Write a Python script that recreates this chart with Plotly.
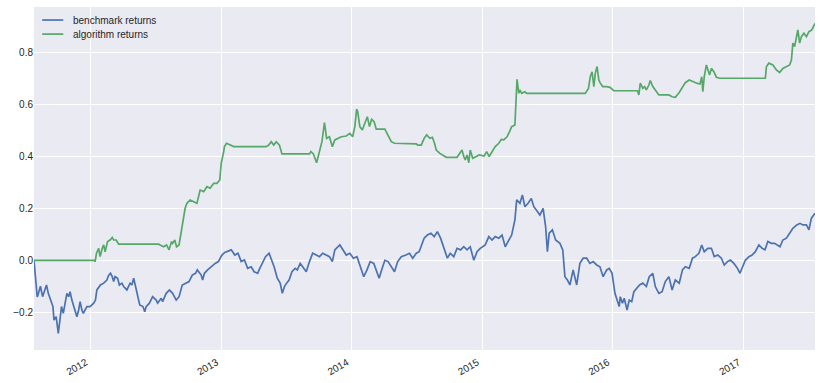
import plotly.graph_objects as go

# benchmark returns (blue)
bench_dates = [
    "2011-07-26", "2011-08-04", "2011-08-06", "2011-08-13", "2011-08-19", "2011-08-26", "2011-08-30",
    "2011-09-04", "2011-09-11", "2011-09-17", "2011-09-20", "2011-09-26", "2011-10-02", "2011-10-07",
    "2011-10-11", "2011-10-16", "2011-10-21", "2011-10-26", "2011-10-31", "2011-11-04", "2011-11-09",
    "2011-11-14", "2011-11-23", "2011-11-28", "2011-12-02", "2011-12-07", "2011-12-11", "2011-12-21",
    "2011-12-30", "2012-01-09", "2012-01-14", "2012-01-18", "2012-01-28", "2012-02-06", "2012-02-15",
    "2012-02-20", "2012-02-25", "2012-03-01", "2012-03-05", "2012-03-09", "2012-03-16", "2012-03-21",
    "2012-03-28", "2012-04-02", "2012-04-11", "2012-04-20", "2012-04-25", "2012-04-30", "2012-05-03",
    "2012-05-08", "2012-05-17", "2012-05-26", "2012-05-31", "2012-06-04", "2012-06-13", "2012-06-22",
    "2012-07-02", "2012-07-06", "2012-07-16", "2012-07-20", "2012-07-30", "2012-08-08", "2012-08-17",
    "2012-08-27", "2012-09-04", "2012-09-13", "2012-09-23", "2012-10-02", "2012-10-11", "2012-10-20",
    "2012-10-25", "2012-11-01", "2012-11-05", "2012-11-09", "2012-11-14", "2012-11-23", "2012-12-03",
    "2012-12-14", "2012-12-23", "2013-01-02", "2013-01-10", "2013-01-28", "2013-02-07", "2013-02-16",
    "2013-02-25", "2013-03-06", "2013-03-15", "2013-03-25", "2013-04-02", "2013-04-12", "2013-04-16",
    "2013-04-26", "2013-05-04", "2013-05-14", "2013-05-19", "2013-05-28", "2013-06-06", "2013-06-14",
    "2013-06-20", "2013-06-26", "2013-07-02", "2013-07-09", "2013-07-17", "2013-07-26", "2013-08-01",
    "2013-08-09", "2013-08-16", "2013-08-26", "2013-09-04", "2013-09-13", "2013-09-23", "2013-10-02",
    "2013-10-11", "2013-10-21", "2013-10-30", "2013-11-07", "2013-11-14", "2013-11-28", "2013-12-07",
    "2013-12-16", "2013-12-26", "2014-01-05", "2014-01-15", "2014-01-22", "2014-01-28", "2014-02-03",
    "2014-02-12", "2014-02-21", "2014-03-03", "2014-03-11", "2014-03-18", "2014-03-25", "2014-04-03",
    "2014-04-12", "2014-04-22", "2014-04-30", "2014-05-09", "2014-05-19", "2014-06-01", "2014-06-11",
    "2014-06-20", "2014-06-30", "2014-07-08", "2014-07-17", "2014-07-22", "2014-07-31", "2014-08-10",
    "2014-08-19", "2014-08-28", "2014-09-06", "2014-09-11", "2014-09-18", "2014-09-25", "2014-10-03",
    "2014-10-13", "2014-10-22", "2014-11-01", "2014-11-10", "2014-11-19", "2014-11-28", "2014-12-08",
    "2014-12-17", "2014-12-26", "2015-01-09", "2015-01-19", "2015-01-28", "2015-02-06", "2015-02-16",
    "2015-02-25", "2015-03-06", "2015-03-15", "2015-03-24", "2015-04-02", "2015-04-07", "2015-04-16",
    "2015-04-23", "2015-04-30", "2015-05-09", "2015-05-18", "2015-05-25", "2015-06-01", "2015-06-11",
    "2015-06-20", "2015-06-27", "2015-07-02", "2015-07-07", "2015-07-16", "2015-07-25", "2015-08-06",
    "2015-08-14", "2015-08-20", "2015-08-27", "2015-09-03", "2015-09-12", "2015-09-22", "2015-10-01",
    "2015-10-10", "2015-10-20", "2015-10-29", "2015-11-07", "2015-11-17", "2015-11-26", "2015-12-05",
    "2015-12-15", "2015-12-22", "2015-12-30", "2016-01-07", "2016-01-19", "2016-01-22", "2016-01-28",
    "2016-02-02", "2016-02-10", "2016-02-16", "2016-02-23", "2016-02-29", "2016-03-07", "2016-03-16",
    "2016-03-25", "2016-04-04", "2016-04-12", "2016-04-22", "2016-04-29", "2016-05-09", "2016-05-18",
    "2016-05-27", "2016-06-06", "2016-06-15", "2016-06-24", "2016-07-05", "2016-07-14", "2016-07-22",
    "2016-08-02", "2016-08-11", "2016-08-19", "2016-08-29", "2016-09-06", "2016-09-13", "2016-09-23",
    "2016-10-03", "2016-10-11", "2016-10-21", "2016-10-31", "2016-11-08", "2016-11-17", "2016-11-25",
    "2016-12-05", "2016-12-15", "2016-12-22", "2016-12-29", "2017-01-06", "2017-01-16", "2017-01-25",
    "2017-02-03", "2017-02-13", "2017-02-22", "2017-03-02", "2017-03-10", "2017-03-20", "2017-03-29",
    "2017-04-07", "2017-04-13", "2017-04-21", "2017-05-01", "2017-05-10", "2017-05-19", "2017-05-30",
    "2017-06-08", "2017-06-16", "2017-06-26", "2017-07-03", "2017-07-10", "2017-07-20",
]
bench_values = [
    0.0, -0.141, -0.134, -0.100, -0.140, -0.114, -0.095,
    -0.127, -0.153, -0.178, -0.230, -0.217, -0.281, -0.217,
    -0.178, -0.204, -0.172, -0.127, -0.140, -0.121, -0.153,
    -0.178, -0.217, -0.191, -0.159, -0.191, -0.204, -0.178,
    -0.178, -0.165, -0.153, -0.114, -0.095, -0.088, -0.076,
    -0.057, -0.050, -0.063, -0.082, -0.063, -0.069, -0.095,
    -0.088, -0.101, -0.114, -0.088, -0.095, -0.069, -0.088,
    -0.127, -0.172, -0.178, -0.198, -0.178, -0.165, -0.140,
    -0.153, -0.165, -0.146, -0.159, -0.127, -0.114, -0.127,
    -0.153, -0.140, -0.095, -0.088, -0.082, -0.057, -0.050,
    -0.037, -0.050, -0.057, -0.076, -0.050, -0.037, -0.025,
    -0.012, -0.005, 0.020, 0.030, 0.040, 0.020, 0.027,
    -0.005, 0.001, -0.031, -0.025, -0.044, -0.050, -0.037,
    -0.005, 0.014, 0.027, 0.008, -0.025, -0.069, -0.088,
    -0.127, -0.101, -0.088, -0.076, -0.044, -0.031, -0.037,
    -0.012, -0.025, -0.044, -0.005, 0.027, 0.020, 0.014,
    0.027, 0.020, 0.014, -0.005, 0.040, 0.059, 0.040,
    0.020, 0.027, 0.008, 0.014, -0.012, -0.037, -0.063,
    -0.037, -0.005, -0.012, -0.044, -0.069, -0.037, 0.000,
    -0.005, -0.025, -0.044, -0.005, 0.014, 0.020, 0.027,
    0.008, 0.027, 0.033, 0.065, 0.085, 0.097, 0.104,
    0.091, 0.110, 0.085, 0.065, 0.040, 0.008, 0.027,
    0.014, 0.046, 0.040, 0.052, 0.040, 0.052, 0.000,
    0.033, 0.046, 0.059, 0.091, 0.078, 0.091, 0.085,
    0.097, 0.052, 0.072, 0.097, 0.155, 0.232, 0.219,
    0.251, 0.206, 0.219, 0.238, 0.206, 0.193, 0.174,
    0.200, 0.129, 0.033, 0.104, 0.117, 0.078, 0.065,
    0.040, -0.063, -0.076, -0.095, -0.037, -0.095, -0.012,
    0.008, 0.008, -0.012, -0.005, -0.018, -0.025, -0.063,
    -0.037, -0.031, -0.050, -0.127, -0.178, -0.140, -0.165,
    -0.146, -0.191, -0.153, -0.159, -0.121, -0.108, -0.095,
    -0.088, -0.101, -0.063, -0.050, -0.101, -0.127, -0.121,
    -0.082, -0.063, -0.114, -0.076, -0.088, -0.037, -0.025,
    -0.031, 0.008, 0.014, 0.027, 0.059, 0.033, 0.046,
    0.046, 0.014, 0.020, 0.008, -0.018, -0.005, 0.001,
    -0.012, -0.031, -0.050, -0.025, 0.000, 0.014, 0.020,
    0.033, 0.059, 0.046, 0.040, 0.072, 0.065, 0.065,
    0.059, 0.052, 0.078, 0.085, 0.104, 0.123, 0.136,
    0.142, 0.136, 0.136, 0.117, 0.162, 0.181,
]

# algorithm returns (green)
algo_dates = [
    "2011-07-26", "2012-01-12", "2012-01-13", "2012-01-17", "2012-01-23", "2012-01-27", "2012-02-02",
    "2012-02-06", "2012-02-10", "2012-02-17", "2012-02-24", "2012-03-01", "2012-03-05", "2012-03-12",
    "2012-03-19", "2012-07-09", "2012-07-13", "2012-07-23", "2012-07-31", "2012-08-07", "2012-08-14",
    "2012-08-17", "2012-08-23", "2012-08-28", "2012-09-04", "2012-09-07", "2012-09-12", "2012-09-17",
    "2012-09-21", "2012-09-26", "2012-10-05", "2012-10-15", "2012-10-24", "2012-11-02", "2012-11-12",
    "2012-11-21", "2012-11-30", "2012-12-10", "2012-12-19", "2012-12-27", "2012-12-31", "2013-01-07",
    "2013-01-09", "2013-01-15", "2013-01-24", "2013-02-04", "2013-05-06", "2013-05-13", "2013-05-20",
    "2013-05-27", "2013-06-03", "2013-06-12", "2013-06-19", "2013-09-04", "2013-09-08", "2013-09-15",
    "2013-09-24", "2013-10-02", "2013-10-09", "2013-10-16", "2013-10-22", "2013-10-30", "2013-11-07",
    "2013-11-14", "2013-11-22", "2013-12-02", "2013-12-16", "2013-12-26", "2014-01-03", "2014-01-09",
    "2014-01-14", "2014-01-17", "2014-01-23", "2014-01-30", "2014-02-06", "2014-02-13", "2014-02-19",
    "2014-02-25", "2014-03-04", "2014-03-10", "2014-04-03", "2014-04-11", "2014-04-21", "2014-04-30",
    "2014-06-30", "2014-07-04", "2014-07-14", "2014-07-22", "2014-07-29", "2014-08-07", "2014-08-14",
    "2014-08-20", "2014-08-25", "2014-09-03", "2014-09-12", "2014-09-22", "2014-10-22", "2014-10-31",
    "2014-11-05", "2014-11-10", "2014-11-14", "2014-11-19", "2014-11-24", "2014-11-28", "2014-12-05",
    "2014-12-15", "2014-12-23", "2015-01-06", "2015-01-13", "2015-01-20", "2015-01-29", "2015-02-06",
    "2015-02-16", "2015-02-23", "2015-03-02", "2015-03-11", "2015-03-18", "2015-03-24", "2015-04-02",
    "2015-04-05", "2015-04-08", "2015-04-13", "2015-04-16", "2015-04-21", "2015-04-30", "2015-05-05",
    "2015-10-16", "2015-10-25", "2015-10-30", "2015-11-04", "2015-11-09", "2015-11-13", "2015-11-18",
    "2015-11-23", "2015-11-27", "2015-12-04", "2015-12-15", "2015-12-24", "2016-01-04", "2016-03-10",
    "2016-03-14", "2016-03-18", "2016-03-25", "2016-03-30", "2016-04-04", "2016-04-11", "2016-04-15",
    "2016-04-22", "2016-05-01", "2016-05-09", "2016-05-23", "2016-06-06", "2016-06-15", "2016-06-24",
    "2016-07-05", "2016-07-14", "2016-07-22", "2016-08-02", "2016-08-11", "2016-08-23", "2016-09-01",
    "2016-09-06", "2016-09-09", "2016-09-13", "2016-09-19", "2016-09-23", "2016-09-28", "2016-10-03",
    "2016-10-10", "2016-10-17", "2016-10-26", "2017-03-03", "2017-03-06", "2017-03-13", "2017-03-24",
    "2017-04-03", "2017-04-12", "2017-04-21", "2017-05-01", "2017-05-10", "2017-05-15", "2017-05-19",
    "2017-05-24", "2017-05-30", "2017-06-02", "2017-06-07", "2017-06-12", "2017-06-19", "2017-06-26",
    "2017-07-03", "2017-07-11", "2017-07-20",
]
algo_values = [
    0.0, 0.0, -0.006, 0.027, 0.046, 0.014, 0.046,
    0.059, 0.033, 0.072, 0.078, 0.088, 0.078, 0.078,
    0.062, 0.062, 0.059, 0.052, 0.059, 0.040, 0.072,
    0.065, 0.078, 0.052, 0.059, 0.085, 0.136, 0.168,
    0.200, 0.219, 0.232, 0.225, 0.219, 0.270, 0.264,
    0.283, 0.277, 0.296, 0.296, 0.309, 0.373, 0.418,
    0.437, 0.450, 0.443, 0.437, 0.437, 0.443, 0.456,
    0.443, 0.456, 0.443, 0.409, 0.409, 0.418, 0.409,
    0.375, 0.424, 0.456, 0.529, 0.469, 0.475, 0.437,
    0.463, 0.469, 0.475, 0.478, 0.488, 0.475, 0.514,
    0.581, 0.572, 0.514, 0.501, 0.527, 0.552, 0.514,
    0.542, 0.533, 0.504, 0.504, 0.482, 0.456, 0.450,
    0.448, 0.443, 0.443, 0.469, 0.482, 0.469, 0.473,
    0.450, 0.424, 0.412, 0.405, 0.396, 0.396, 0.412,
    0.424, 0.399, 0.386, 0.405, 0.375, 0.424, 0.392,
    0.399, 0.405, 0.401, 0.418, 0.399, 0.418, 0.437,
    0.450, 0.465, 0.463, 0.475, 0.495, 0.514, 0.520,
    0.617, 0.696, 0.642, 0.655, 0.642, 0.648, 0.642,
    0.642, 0.661, 0.706, 0.725, 0.668, 0.719, 0.745,
    0.693, 0.681, 0.668, 0.668, 0.665, 0.652, 0.652,
    0.636, 0.681, 0.661, 0.668, 0.655, 0.674, 0.691,
    0.668, 0.652, 0.636, 0.636, 0.636, 0.629, 0.627,
    0.645, 0.665, 0.683, 0.693, 0.687, 0.681, 0.678,
    0.706, 0.648, 0.706, 0.751, 0.732, 0.713, 0.738,
    0.725, 0.704, 0.700, 0.700, 0.745, 0.758, 0.751,
    0.732, 0.722, 0.738, 0.745, 0.751, 0.770, 0.835,
    0.822, 0.860, 0.886, 0.835, 0.860, 0.873, 0.860,
    0.879, 0.886, 0.911,
]

series_names = ["benchmark returns", "algorithm returns"]
series_colors = ["#4C72B0", "#55A868"]
y_ticks = [-0.2, 0.0, 0.2, 0.4, 0.6, 0.8]

FONT = "Liberation Sans, Arial, sans-serif"
TEXT = "#262626"

fig = go.Figure()
for name, color, xs, ys in zip(series_names, series_colors,
                               [bench_dates, algo_dates], [bench_values, algo_values]):
    fig.add_trace(go.Scatter(x=xs, y=ys, mode="lines", name=name,
                             line=dict(color=color, width=1.7), showlegend=False))

# compact matplotlib-style legend (upper left, no frame)
legend_rows = [0.962, 0.921]
for name, color, yrow in zip(series_names, series_colors, legend_rows):
    fig.add_shape(type="line", xref="paper", yref="paper",
                  x0=0.0105, x1=0.0375, y0=yrow, y1=yrow,
                  line=dict(color=color, width=1.7))
    fig.add_annotation(xref="paper", yref="paper", x=0.047, y=yrow,
                       text=name, showarrow=False, xanchor="left", yanchor="middle",
                       font=dict(family=FONT, size=10, color=TEXT))

fig.update_layout(
    width=822, height=383,
    margin=dict(l=34, r=7, t=7, b=33, autoexpand=False),
    paper_bgcolor="white",
    plot_bgcolor="#EAEAF2",
    font=dict(family=FONT, size=10, color=TEXT),
    showlegend=False,
    xaxis=dict(
        type="date",
        range=[bench_dates[0], bench_dates[-1]],
        tick0="2012-01-01", dtick="M12", tickformat="%Y",
        tickangle=-30,
        ticklabelstandoff=4, ticklabelshift=-5,
        showgrid=True, gridcolor="white", gridwidth=1,
        zeroline=False, showline=False, ticks="",
        tickfont=dict(size=10, color=TEXT),
    ),
    yaxis=dict(
        range=[-0.345, 0.974],
        tickmode="array", tickvals=y_ticks,
        ticktext=[("\u2212" if v < 0 else "") + f"{abs(v):.1f}" for v in y_ticks],
        showgrid=True, gridcolor="white", gridwidth=1,
        zeroline=False, showline=False, ticks="",
        tickfont=dict(size=10, color=TEXT),
    ),
)

fig.write_html("out.html")
